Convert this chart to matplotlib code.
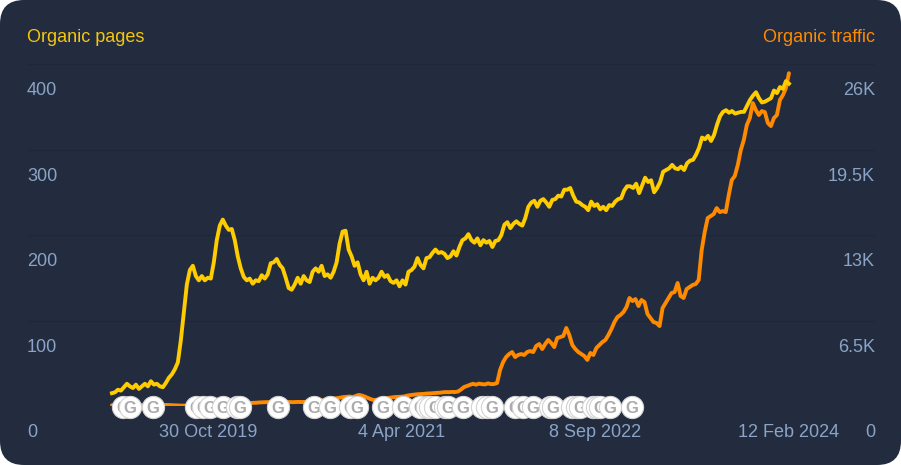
import matplotlib
matplotlib.use('Agg')
import matplotlib.pyplot as plt
import matplotlib.dates as mdates
from matplotlib.patches import FancyBboxPatch
import pandas as pd

plt.rcParams['font.family'] = ['Liberation Sans', 'DejaVu Sans']

first_day = '2019-02-13'
last_day = '2024-02-12'

# weekly-ish readings
pages = [15, 16, 19, 18, 22, 26, 23, 21, 25, 20, 23, 26, 23, 29, 25, 26, 23, 22, 27, 33, 37, 43, 51, 77,
         110, 142, 159, 164, 152, 147, 152, 147, 150, 149, 168, 194, 211, 218, 211, 206, 207, 194, 175,
         161, 151, 147, 149, 143, 147, 146, 153, 149, 154, 167, 168, 172, 165, 161, 150, 138, 136, 142,
         150, 143, 152, 147, 145, 157, 161, 157, 164, 152, 154, 150, 157, 168, 190, 204, 205, 183, 175,
         164, 168, 154, 147, 157, 143, 150, 147, 150, 157, 151, 153, 146, 144, 147, 140, 147, 142, 157,
         159, 163, 173, 165, 161, 173, 174, 179, 183, 179, 180, 178, 173, 175, 181, 176, 186, 194, 196,
         201, 194, 191, 196, 188, 194, 191, 193, 186, 193, 194, 200, 212, 215, 208, 213, 216, 213, 211,
         220, 233, 238, 240, 233, 240, 242, 238, 233, 241, 242, 246, 245, 253, 253, 255, 246, 239, 238,
         235, 233, 229, 239, 234, 236, 230, 233, 229, 235, 234, 239, 242, 243, 252, 257, 257, 255, 260,
         249, 258, 267, 262, 264, 250, 255, 262, 274, 276, 278, 282, 278, 277, 280, 276, 284, 287, 288,
         294, 302, 314, 312, 316, 310, 317, 329, 339, 344, 346, 343, 345, 342, 343, 344, 344, 351, 358,
         363, 367, 360, 355, 356, 358, 360, 369, 366, 373, 371, 380, 377]

traffic = [60, 70, 60, 70, 80, 70, 60, 70, 80, 70, 80, 70, 60, 70, 70, 80, 60, 70, 80, 70,
           60, 50, 40, 30, 30, 30,
           40, 40, 50, 50, 60, 70, 70, 80, 90, 100, 110, 110, 120, 130, 150, 160, 170, 190, 200, 210, 230,
           240, 250, 270, 280, 290, 300, 300, 290, 290, 300, 310, 300, 300, 290, 300, 310, 300,
           310, 320, 340, 350, 380, 400, 430, 460, 500, 530, 570, 600, 640, 680,
           700, 720, 680, 760, 840, 800, 720, 620, 520, 450,
           470, 500, 530, 560, 620, 650, 680, 690, 700, 720, 780, 820, 850, 880, 900,
           910, 930, 950, 960, 980, 1000, 1010, 1040, 1060, 1050, 1070, 1060, 1100, 1250, 1440,
           1520, 1610, 1690, 1620, 1700, 1660, 1640, 1720, 1660, 1670, 1750,
           2740, 3340, 3720, 3950, 4100, 3720, 3880, 3950, 3880, 4100, 4180, 4100, 4560, 4710, 4330,
           4710, 5020, 4790, 4480, 5170, 5240, 5320, 5930, 5400, 4640, 4330, 4100, 3950, 3800, 3500,
           4030, 3880, 4410, 4640, 4860, 5020, 5400, 5850, 6380, 6760, 6920, 7140, 7520, 8210, 7980,
           8130, 7600, 8060, 7900, 6990, 6690, 6380, 6310, 6080, 7450, 7830, 8210, 8590, 8660, 9350,
           8360, 8210, 8890, 9040, 9200, 9270, 9580, 11860, 13220, 14290, 14440, 14590, 15050, 14740,
           14820, 14740, 16040, 17180, 17480, 18320, 19460, 20220, 21360, 21890, 23030, 22500, 22120,
           22420, 22340, 21510, 21280, 21890, 22120, 23260, 23640, 24170, 25300]

# google update markers
updates = ['2019-03-14', '2019-04-02', '2019-06-03', '2019-09-28', '2019-10-17', '2019-11-04',
           '2019-12-09', '2020-01-16', '2020-01-24', '2020-05-06', '2020-08-11', '2020-09-23',
           '2020-11-16', '2020-12-05', '2021-02-13', '2021-04-08', '2021-05-23', '2021-06-11',
           '2021-06-19', '2021-07-03', '2021-07-30', '2021-08-07', '2021-09-16', '2021-11-07',
           '2021-11-20', '2021-12-03', '2022-02-03', '2022-02-25', '2022-03-24', '2022-05-09',
           '2022-05-17', '2022-07-07', '2022-07-21', '2022-07-29', '2022-09-02', '2022-09-13',
           '2022-09-21', '2022-10-18', '2022-12-16']

x_ticks = ['2019-10-30', '2021-04-04', '2022-09-08', '2024-02-12']
x_labels = ['30 Oct 2019', '4 Apr 2021', '8 Sep 2022', '12 Feb 2024']
pages_ticks = [0, 100, 200, 300, 400]
traffic_ticks = [0, 6500, 13000, 19500, 26000]
traffic_labels = ['0', '6.5K', '13K', '19.5K', '26K']

BG = '#222C3E'
GRID = '#1F2839'
LABEL = '#8BA3C7'
YELLOW = '#FFCC00'
ORANGE = '#FF8A00'

fig = plt.figure(figsize=(9.01, 4.65), dpi=100, facecolor='white')

# rounded card behind everything
card = fig.add_axes([0, 0, 1, 1])
card.set_xlim(0, 901)
card.set_ylim(0, 465)
card.axis('off')
card.add_patch(FancyBboxPatch((0, 0), 901, 465, boxstyle='round,pad=0,rounding_size=24',
                              facecolor=BG, edgecolor='none'))

ax = fig.add_axes([27 / 901, 59 / 465, 848 / 901, 342 / 465])
ax2 = ax.twinx()
ax.set_zorder(ax2.get_zorder() + 1)
ax.patch.set_visible(False)
ax2.patch.set_visible(False)

pages_dates = pd.date_range(first_day, last_day, periods=len(pages))
traffic_dates = pd.date_range(first_day, last_day, periods=len(traffic))

ax2.plot(traffic_dates, traffic, color=ORANGE, lw=2.8, solid_joinstyle='round', solid_capstyle='round')
ax.plot(pages_dates, pages, color=YELLOW, lw=2.8, solid_joinstyle='round', zorder=3)

ax.set_ylim(0, 400)
ax2.set_ylim(0, 26000)
ax.set_xlim(pd.Timestamp('2018-06-29'), pd.Timestamp('2024-10-01'))

ax.set_yticks(pages_ticks)
ax.set_yticklabels([])
ax2.set_yticks(traffic_ticks)
ax2.set_yticklabels([])
# gridlines go on the lower axes so they stay under both lines
ax2.grid(axis='y', color=GRID, lw=1)
ax2.set_axisbelow(True)
ax.set_xticks([mdates.date2num(pd.Timestamp(d)) for d in x_ticks])
ax.set_xticklabels(x_labels, color=LABEL, fontsize=13)
ax.tick_params(axis='x', length=0, pad=13)
ax.tick_params(axis='y', length=0)
ax2.tick_params(axis='y', length=0)
for s in ax.spines.values():
    s.set_visible(False)
for s in ax2.spines.values():
    s.set_visible(False)

# value labels sit under their gridlines
for v in pages_ticks:
    ax.annotate(str(v), xy=(0, v), xycoords=ax.get_yaxis_transform(), xytext=(0, -19.2),
                textcoords='offset points', ha='left', va='center', color=LABEL, fontsize=13)
for v, lab in zip(traffic_ticks, traffic_labels):
    ax2.annotate(lab, xy=(1, v), xycoords=ax2.get_yaxis_transform(), xytext=(0, -19.2),
                 textcoords='offset points', ha='right', va='center', color=LABEL, fontsize=13)

for i, d in enumerate(updates):
    when = mdates.date2num(pd.Timestamp(d))
    ax.scatter([when], [-1], s=255, color='white', edgecolor='#D2D2D2', linewidth=0.8,
               clip_on=False, zorder=5 + i * 0.01)
    ax.text(when, -1, 'G', color='#ABABAB', fontsize=12, fontweight='bold', ha='center',
            va='center_baseline', clip_on=False, zorder=5 + i * 0.01 + 0.005)

fig.text(27 / 901, 1 - 37 / 465, 'Organic pages', color='#F5C60F', fontsize=13, va='center', ha='left')
fig.text(875 / 901, 1 - 37 / 465, 'Organic traffic', color=ORANGE, fontsize=13, va='center', ha='right')

fig.savefig('out.png', dpi=100, facecolor='white')
